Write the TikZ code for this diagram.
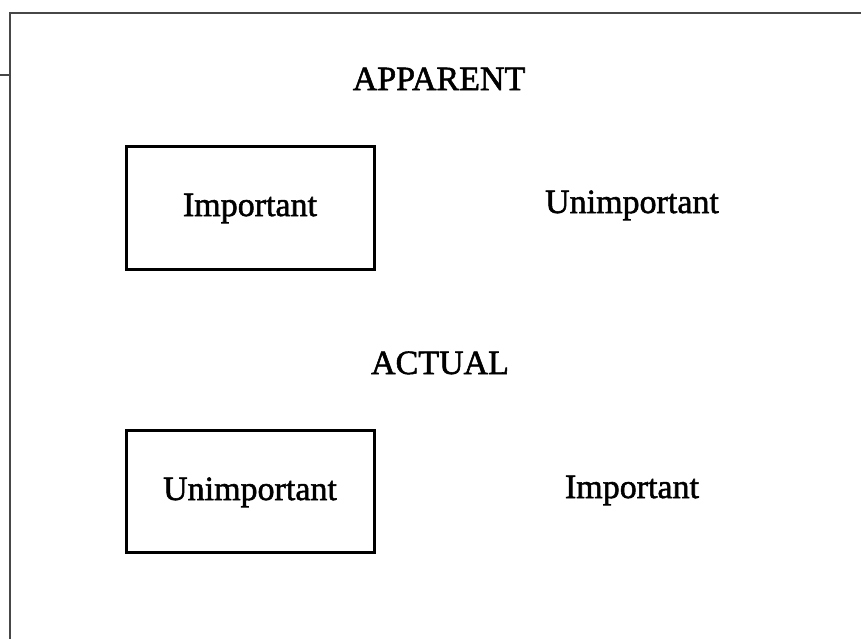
\documentclass[tikz,border=0pt]{standalone}
\usepackage{fontspec}
\setmainfont{Liberation Serif}
\newfontfamily\labelfont{Liberation Serif}[FakeBold=1.6]
\begin{document}
\begin{tikzpicture}[x=1pt,y=-1pt,
  lbl/.style={font=\labelfont\fontsize{34}{36}\selectfont, inner sep=0pt, anchor=base},
  frame/.style={draw=black!72, line width=2pt},
  boxed/.style={draw=black, line width=3pt}]
\useasboundingbox (0,0) rectangle (861,638);
% outer frame, open at the right and bottom edges
\draw[frame] (9.5,640) -- (9.5,12.5) -- (862,12.5);
\draw[frame, line width=1.5pt] (0,75) -- (9.5,75);
% upper panel
\node[lbl] (app) at (439,90) {APPARENT};
\draw[boxed] (126,146) rectangle (374,269);
\node[lbl] (imp1) at (250,216) {Important};
\node[lbl] (unimp1) at (632,213) {Unimportant};
% lower panel
\node[lbl] (act) at (440,374) {ACTUAL};
\draw[boxed] (126,430) rectangle (374,552);
\node[lbl] (unimp2) at (250,500) {Unimportant};
\node[lbl] (imp2) at (632,498) {Important};
\end{tikzpicture}
\end{document}
